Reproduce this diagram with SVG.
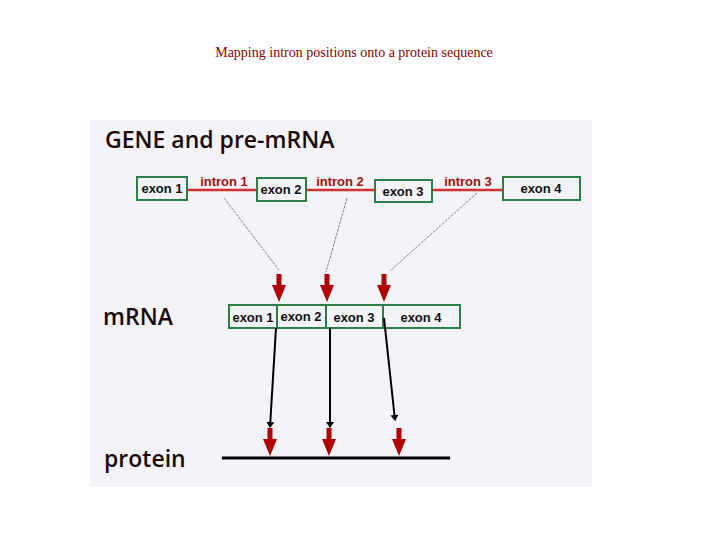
<svg xmlns="http://www.w3.org/2000/svg" width="720" height="540" viewBox="0 0 720 540">
<style>
.ex{fill:#f3f3f8;stroke:#2e7d46;stroke-width:2}
.el{font-family:"Liberation Sans",Arial,sans-serif;font-weight:bold;font-size:13px;fill:#111;text-anchor:middle}
.il{font-family:"Liberation Sans",Arial,sans-serif;font-weight:bold;font-size:13px;fill:#a01010;text-anchor:middle}
.big{font-family:"Open Sans","Liberation Sans",Arial,sans-serif;font-size:23px;font-weight:600;fill:#1a0a0a}
.thin{stroke:#555;stroke-width:0.7;stroke-dasharray:3 1}
.blk{stroke:#000;stroke-width:2;marker-end:url(#bh)}
</style>
<defs>
<marker id="bh" markerWidth="6" markerHeight="8" refX="5" refY="4" orient="auto" markerUnits="userSpaceOnUse"><path d="M0,0 L6,4 L0,8 Z" fill="#000"/></marker>
<g id="ra"><rect x="-2.5" y="0" width="5" height="12" fill="#b00000"/><path d="M-7,11 L7,11 L0,28 Z" fill="#b00000"/></g>
</defs>
<rect width="720" height="540" fill="#fff"/>
<text x="354" y="57" font-family="Liberation Serif,serif" font-size="14" fill="#8b0000" text-anchor="middle">Mapping intron positions onto a protein sequence</text>
<rect x="90" y="120" width="502" height="367" fill="#f3f3f8"/>
<text class="big" x="105" y="148">GENE and pre-mRNA</text>
<text class="big" x="103" y="325">mRNA</text>
<text class="big" x="104" y="467">protein</text>
<g id="gene">
<line x1="187" y1="190" x2="503" y2="190" stroke="#d03030" stroke-width="2.5"/>
<g id="g-exon1"><rect class="ex" x="137" y="177" width="50" height="23"/><text class="el" x="162" y="193">exon 1</text></g>
<g id="g-exon2"><rect class="ex" x="257" y="178" width="49" height="23"/><text class="el" x="281" y="194">exon 2</text></g>
<g id="g-exon3"><rect class="ex" x="375" y="180" width="57" height="22"/><text class="el" x="403" y="196">exon 3</text></g>
<g id="g-exon4"><rect class="ex" x="503" y="177" width="77" height="23"/><text class="el" x="541" y="193">exon 4</text></g>
<text class="il" x="224" y="186">intron 1</text>
<text class="il" x="340" y="186">intron 2</text>
<text class="il" x="468" y="186">intron 3</text>
</g>
<g id="mrna">
<g id="m-exon1"><rect class="ex" x="229" y="305" width="48" height="23"/><text class="el" x="253" y="322">exon 1</text></g>
<g id="m-exon2"><rect class="ex" x="277" y="305" width="49" height="23"/><text class="el" x="301" y="321">exon 2</text></g>
<g id="m-exon3"><rect class="ex" x="326" y="305" width="57" height="23"/><text class="el" x="354" y="322">exon 3</text></g>
<g id="m-exon4"><rect class="ex" x="383" y="305" width="77" height="23"/><text class="el" x="421" y="322">exon 4</text></g>
</g>
<g id="protein"><line x1="222" y1="458" x2="450" y2="458" stroke="#000" stroke-width="3"/></g>
<g id="connectors">
<line class="thin" x1="224" y1="198" x2="279" y2="270"/>
<line class="thin" x1="347" y1="198" x2="326" y2="272"/>
<line class="thin" x1="477" y1="193" x2="390" y2="271"/>
<use href="#ra" x="279" y="274"/>
<use href="#ra" x="327" y="274"/>
<use href="#ra" x="384" y="274"/>
<line class="blk" x1="276" y1="328" x2="270" y2="427"/>
<line class="blk" x1="330" y1="328" x2="330" y2="427"/>
<line class="blk" x1="384" y1="318" x2="395" y2="420"/>
<use href="#ra" x="270" y="428"/>
<use href="#ra" x="329" y="428"/>
<use href="#ra" x="399" y="428"/>
</g>
</svg>
